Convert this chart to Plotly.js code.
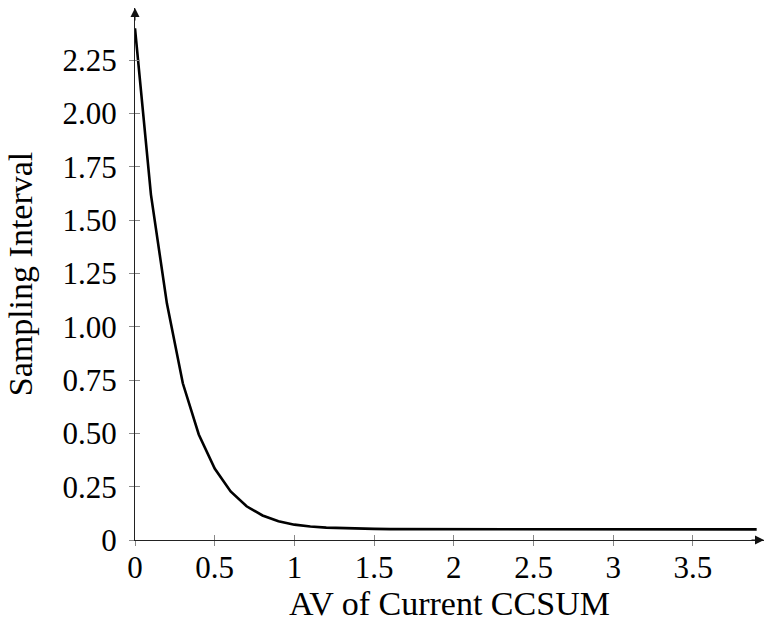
<!DOCTYPE html>
<html>
<head>
<meta charset="utf-8">
<script src="https://cdn.plot.ly/plotly-3.0.1.min.js"></script>
<style>html,body{margin:0;padding:0;background:#fff;}#chart{width:765px;height:626px;}</style>
</head>
<body>
<div id="chart"></div>
<script>
// Data
const avValues = [0, 0.1, 0.2, 0.3, 0.4, 0.5, 0.6, 0.7, 0.8, 0.9, 1.0, 1.1, 1.2, 1.3, 1.4, 1.5, 1.6, 1.7, 1.8, 2.0, 2.2, 2.4, 2.6, 2.8, 3.0, 3.2, 3.4, 3.6, 3.8, 3.9];
const samplingInterval = [2.40, 1.62, 1.11, 0.735, 0.495, 0.335, 0.228, 0.158, 0.115, 0.088, 0.072, 0.063, 0.058, 0.055, 0.053, 0.052, 0.051, 0.051, 0.050, 0.050, 0.050, 0.050, 0.050, 0.050, 0.050, 0.050, 0.050, 0.050, 0.050, 0.050];
const xTickVals = [0, 0.5, 1, 1.5, 2, 2.5, 3, 3.5];
const xTickText = ['0', '0.5', '1', '1.5', '2', '2.5', '3', '3.5'];
const yTickVals = [0, 0.25, 0.5, 0.75, 1, 1.25, 1.5, 1.75, 2, 2.25];
const yTickText = ['0', '0.25', '0.50', '0.75', '1.00', '1.25', '1.50', '1.75', '2.00', '2.25'];

const FONT = 'Liberation Serif, Times New Roman, serif';
const TICK_SIZE = 31;
const TITLE_SIZE = 34;
const xRange = [0, 3.946];
const yRange = [0, 2.495];

const traces = [
  {x: avValues, y: samplingInterval, type: 'scatter', mode: 'lines',
   line: {color: '#000', width: 2.6}, hoverinfo: 'skip', xaxis: 'x', yaxis: 'y'},
  // transparent copy so the overlay axes (inner tick halves) are drawn
  {x: avValues, y: samplingInterval, type: 'scatter', mode: 'lines', opacity: 0,
   line: {color: 'rgba(0,0,0,0)', width: 0.1}, xaxis: 'x2', yaxis: 'y2', hoverinfo: 'skip', showlegend: false}
];

const layout = {
  width: 765, height: 626,
  margin: {l: 135, r: 1, t: 8, b: 86},
  paper_bgcolor: '#fff', plot_bgcolor: 'rgba(0,0,0,0)',
  showlegend: false,
  font: {family: FONT, size: TICK_SIZE, color: '#000'},
  xaxis: {
    range: xRange, tickvals: xTickVals, ticktext: xTickText,
    showgrid: false, zeroline: false, showline: true, linecolor: '#222', linewidth: 1,
    ticks: 'outside', ticklen: 5, tickcolor: '#888', tickwidth: 1,
    ticklabelstandoff: -5,
    tickfont: {family: FONT, size: TICK_SIZE, color: '#000'},
    title: {text: 'AV of Current CCSUM', font: {family: FONT, size: TITLE_SIZE, color: '#000'}, standoff: 6},
    automargin: false
  },
  yaxis: {
    range: yRange, tickvals: yTickVals, ticktext: yTickText,
    showgrid: false, zeroline: false, showline: true, linecolor: '#222', linewidth: 1,
    ticks: 'outside', ticklen: 5, tickcolor: '#888', tickwidth: 1,
    ticklabelstandoff: 6,
    tickfont: {family: FONT, size: TICK_SIZE, color: '#000'},
    title: {text: 'Sampling Interval', font: {family: FONT, size: TITLE_SIZE, color: '#000'}, standoff: 19},
    automargin: false
  },
  xaxis2: {
    overlaying: 'x', anchor: 'y2', range: xRange, tickvals: xTickVals,
    showticklabels: false, showgrid: false, zeroline: false, showline: false,
    ticks: 'inside', ticklen: 5, tickcolor: '#888', tickwidth: 1
  },
  yaxis2: {
    overlaying: 'y', anchor: 'x2', range: yRange, tickvals: yTickVals,
    showticklabels: false, showgrid: false, zeroline: false, showline: false,
    ticks: 'inside', ticklen: 5, tickcolor: '#888', tickwidth: 1
  },
  annotations: [
    {xref: 'paper', yref: 'paper', x: 1.0, y: 0, ax: -14, ay: 0, axref: 'pixel', ayref: 'pixel',
     showarrow: true, arrowhead: 2, arrowsize: 1.8, arrowwidth: 1, arrowcolor: '#111', text: ''},
    {xref: 'paper', yref: 'paper', x: 0, y: 1.0, ax: 0, ay: 14, axref: 'pixel', ayref: 'pixel',
     showarrow: true, arrowhead: 2, arrowsize: 1.8, arrowwidth: 1, arrowcolor: '#111', text: ''}
  ]
};

Plotly.newPlot('chart', traces, layout, {staticPlot: true, displayModeBar: false});
</script>
</body>
</html>
